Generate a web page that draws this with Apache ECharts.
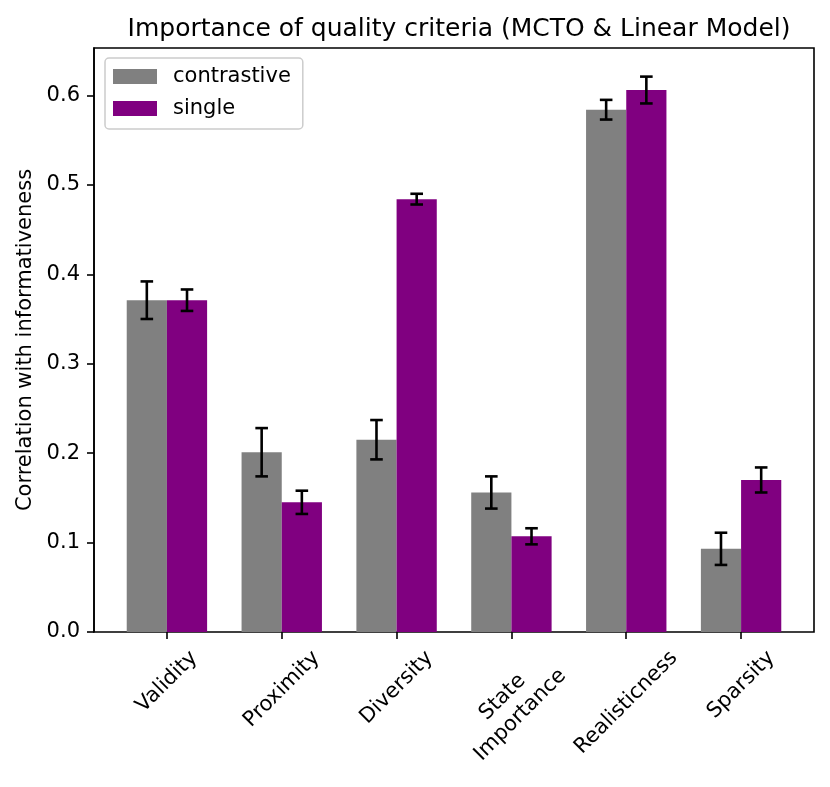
<!DOCTYPE html>
<html>
<head>
<meta charset="utf-8">
<script src="https://cdn.jsdelivr.net/npm/echarts@6/dist/echarts.min.js"></script>
<style>
  html, body { margin: 0; padding: 0; background: #fff; }
  #main { width: 830px; height: 787px; }
</style>
</head>
<body>
<div id="main"></div>
<script>
// values
const categories = ['Validity', 'Proximity', 'Diversity', 'State\nImportance', 'Realisticness', 'Sparsity'];
const contrastive = [0.371, 0.201, 0.215, 0.156, 0.584, 0.093];
const contrastiveErr = [0.021, 0.027, 0.022, 0.018, 0.011, 0.018];
const single = [0.371, 0.145, 0.484, 0.107, 0.606, 0.170];
const singleErr = [0.012, 0.013, 0.006, 0.009, 0.015, 0.014];
const yTicks = [0, 0.1, 0.2, 0.3, 0.4, 0.5, 0.6];

const FONT = 'DejaVu Sans';
const FS = 21;
const yMax = 0.653;

// axes box (matplotlib style frame) and the inset category band area
const box = { left: 94, top: 48, width: 720, height: 584 };
const xMin = -0.635, xMax = 5.635;
const unit = box.width / (xMax - xMin);
const bandLeft = box.left + (-0.5 - xMin) * unit;
const bandWidth = categories.length * unit;
const barW = 0.35 * unit;
const cap = 6.3;

const measure = document.createElement('canvas').getContext('2d');
measure.font = FS + 'px "' + FONT + '"';

function errorSeries(vals, errs, shift) {
  return {
    type: 'custom',
    xAxisIndex: 1,
    yAxisIndex: 1,
    z: 10,
    silent: true,
    data: vals.map((v, i) => [i, v, errs[i]]),
    renderItem: function (params, api) {
      const i = api.value(0), v = api.value(1), e = api.value(2);
      const hi = api.coord([i, v + e]);
      const lo = api.coord([i, v - e]);
      const x = hi[0] + shift;
      const style = { stroke: '#000', lineWidth: 2.6 };
      return {
        type: 'group',
        children: [
          { type: 'line', shape: { x1: x, y1: hi[1], x2: x, y2: lo[1] }, style: style },
          { type: 'line', shape: { x1: x - cap, y1: hi[1], x2: x + cap, y2: hi[1] }, style: style },
          { type: 'line', shape: { x1: x - cap, y1: lo[1], x2: x + cap, y2: lo[1] }, style: style }
        ]
      };
    }
  };
}

const chart = echarts.init(document.getElementById('main'));

chart.setOption({
  backgroundColor: '#fff',
  animation: false,
  title: {
    text: 'Importance of quality criteria (MCTO & Linear Model)',
    left: box.left + box.width / 2,
    textAlign: 'center',
    top: 12,
    textStyle: { fontFamily: FONT, fontSize: 25, fontWeight: 'normal', color: '#000' }
  },
  legend: {
    data: ['contrastive', 'single'],
    orient: 'vertical',
    left: 105,
    top: 58,
    padding: [8, 12, 10, 8],
    itemWidth: 44,
    itemHeight: 15,
    itemGap: 11,
    icon: 'rect',
    borderColor: '#cccccc',
    borderWidth: 1.5,
    borderRadius: 4,
    textStyle: { fontFamily: FONT, fontSize: FS, color: '#000', lineHeight: 21, padding: [0, 0, 0, 11] }
  },
  grid: [
    { left: box.left, top: box.top, width: box.width, height: box.height,
      show: true, borderColor: '#000', borderWidth: 1.6, backgroundColor: 'transparent' },
    { left: bandLeft, top: box.top, width: bandWidth, height: box.height }
  ],
  xAxis: [
    { gridIndex: 0, type: 'value', min: xMin, max: xMax, show: false },
    {
      gridIndex: 1,
      type: 'category',
      data: categories,
      axisLine: { show: false },
      axisTick: { show: true, alignWithLabel: true, length: 7, lineStyle: { color: '#000', width: 1.6 } },
      axisLabel: { show: false },
      splitLine: { show: false }
    }
  ],
  yAxis: [
    {
      gridIndex: 0,
      type: 'value',
      position: 'left',
      min: 0,
      max: yMax,
      interval: 0.1,
      name: 'Correlation with informativeness',
      nameLocation: 'middle',
      nameGap: 56,
      nameTextStyle: { fontFamily: FONT, fontSize: FS, color: '#000' },
      axisLine: { show: true, onZero: false, lineStyle: { color: '#000', width: 1.6 } },
      axisTick: { show: true, length: 7, customValues: yTicks, lineStyle: { color: '#000', width: 1.6 } },
      axisLabel: {
        fontFamily: FONT, fontSize: FS, color: '#000', margin: 14,
        customValues: yTicks,
        formatter: v => v.toFixed(1)
      },
      splitLine: { show: false }
    },
    { gridIndex: 1, type: 'value', min: 0, max: yMax, show: false }
  ],
  series: [
    {
      name: 'contrastive',
      type: 'bar',
      xAxisIndex: 1,
      yAxisIndex: 1,
      data: contrastive,
      barWidth: barW,
      barGap: '0%',
      itemStyle: { color: '#808080' }
    },
    {
      name: 'single',
      type: 'bar',
      xAxisIndex: 1,
      yAxisIndex: 1,
      data: single,
      barWidth: barW,
      barGap: '0%',
      itemStyle: { color: '#800080' }
    },
    errorSeries(contrastive, contrastiveErr, -barW / 2),
    errorSeries(single, singleErr, barW / 2),
    {
      // rotated tick labels, centred under the tick like matplotlib
      type: 'custom',
      xAxisIndex: 1,
      yAxisIndex: 1,
      silent: true,
      clip: false,
      data: categories.map((c, i) => [i, 0]),
      renderItem: function (params, api) {
        const i = api.value(0);
        const p = api.coord([i, 0]);
        const text = categories[i];
        const lines = text.split('\n');
        const w = Math.max.apply(null, lines.map(l => measure.measureText(l).width));
        const h = (lines.length - 1) * 1.2 * FS + 1.17 * FS;
        return {
          type: 'text',
          x: p[0],
          y: p[1] + 14 + (w + h) * Math.SQRT1_2 / 2,
          rotation: Math.PI / 4,
          style: {
            text: text,
            fontFamily: FONT,
            fontSize: FS,
            lineHeight: 1.2 * FS,
            align: 'center',
            verticalAlign: 'middle',
            fill: '#000'
          }
        };
      }
    }
  ]
});
</script>
</body>
</html>
